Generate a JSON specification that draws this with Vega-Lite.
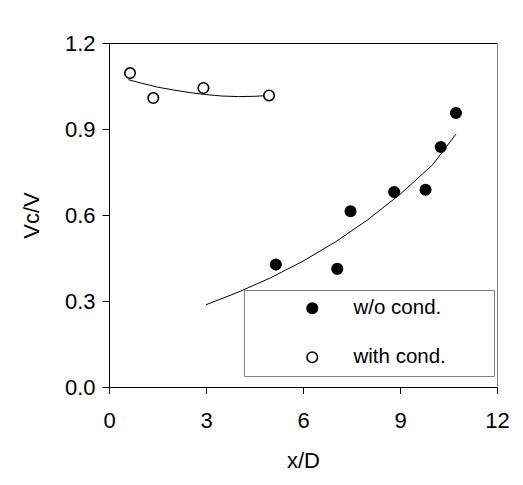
{
  "$schema": "https://vega.github.io/schema/vega-lite/v6.json",
  "width": 388,
  "height": 344,
  "autosize": "none",
  "padding": {"left": 109, "top": 43, "right": 26, "bottom": 98},
  "background": "white",
  "config": {
    "view": {"stroke": null},
    "font": "Liberation Sans",
    "axis": {"grid": false, "labelFont": "Liberation Sans", "titleFont": "Liberation Sans", "labelColor": "black", "titleColor": "black", "domainColor": "black", "tickColor": "black", "titleFontWeight": "normal"}
  },
  "datasets": {
    "pts": [
      {"x": 0.65, "y": 1.095, "series": "with cond."},
      {"x": 1.37, "y": 1.008, "series": "with cond."},
      {"x": 2.92, "y": 1.043, "series": "with cond."},
      {"x": 4.95, "y": 1.017, "series": "with cond."},
      {"x": 5.16, "y": 0.427, "series": "w/o cond."},
      {"x": 7.06, "y": 0.412, "series": "w/o cond."},
      {"x": 7.47, "y": 0.613, "series": "w/o cond."},
      {"x": 8.82, "y": 0.68, "series": "w/o cond."},
      {"x": 9.79, "y": 0.688, "series": "w/o cond."},
      {"x": 10.26, "y": 0.837, "series": "w/o cond."},
      {"x": 10.73, "y": 0.956, "series": "w/o cond."}
    ],
    "fits": [
      {"x": 0.6, "y": 1.072, "series": "with cond."},
      {"x": 1.0, "y": 1.06, "series": "with cond."},
      {"x": 1.5, "y": 1.046, "series": "with cond."},
      {"x": 2.0, "y": 1.036, "series": "with cond."},
      {"x": 2.5, "y": 1.027, "series": "with cond."},
      {"x": 3.0, "y": 1.02, "series": "with cond."},
      {"x": 3.5, "y": 1.015, "series": "with cond."},
      {"x": 4.0, "y": 1.013, "series": "with cond."},
      {"x": 4.5, "y": 1.014, "series": "with cond."},
      {"x": 4.95, "y": 1.017, "series": "with cond."},
      {"x": 3.0, "y": 0.287, "series": "w/o cond."},
      {"x": 4.0, "y": 0.331, "series": "w/o cond."},
      {"x": 5.0, "y": 0.381, "series": "w/o cond."},
      {"x": 6.0, "y": 0.439, "series": "w/o cond."},
      {"x": 7.0, "y": 0.506, "series": "w/o cond."},
      {"x": 8.0, "y": 0.583, "series": "w/o cond."},
      {"x": 9.0, "y": 0.672, "series": "w/o cond."},
      {"x": 10.0, "y": 0.774, "series": "w/o cond."},
      {"x": 10.73, "y": 0.882, "series": "w/o cond."}
    ]
  },
  "resolve": {"axis": {"x": "independent", "y": "independent"}},
  "layer": [
    {
      "data": {"name": "fits"},
      "mark": {"type": "line", "color": "black", "strokeWidth": 1},
      "encoding": {
        "x": {"field": "x", "type": "quantitative", "scale": {"domain": [0, 12], "nice": false},
              "axis": {"orient": "bottom", "title": "x/D", "values": [0, 3, 6, 9, 12], "labelFontSize": 22, "titleFontSize": 22, "tickSize": 6.5, "labelPadding": 17, "titlePadding": 19, "labelFlush": false}},
        "y": {"field": "y", "type": "quantitative", "scale": {"domain": [0, 1.2], "nice": false},
              "axis": {"orient": "left", "title": "Vc/V", "values": [0, 0.3, 0.6, 0.9, 1.2], "format": ".1f", "labelFontSize": 22, "titleFontSize": 22, "tickSize": 7, "labelPadding": 7, "titlePadding": 21, "labelFlush": false}},
        "detail": {"field": "series"}
      }
    },
    {
      "data": {"name": "pts"},
      "mark": {"type": "point", "shape": "circle", "filled": true, "stroke": "black", "strokeWidth": 1.6, "size": 110, "opacity": 1},
      "encoding": {
        "x": {"field": "x", "type": "quantitative",
              "axis": {"orient": "top", "title": null, "labels": false, "ticks": false, "domainColor": "black"}},
        "y": {"field": "y", "type": "quantitative",
              "axis": {"orient": "right", "title": null, "labels": false, "ticks": false, "domainColor": "#808080"}},
        "fill": {"field": "series", "type": "nominal",
                 "scale": {"domain": ["w/o cond.", "with cond."], "range": ["black", "white"]},
                 "legend": {"title": "\u00a0", "titleOrient": "right", "titlePadding": 40, "titleFontSize": 10,
                            "orient": "none", "legendX": 135, "legendY": 247,
                            "symbolType": "circle", "symbolSize": 110, "symbolStrokeColor": "black", "symbolStrokeWidth": 1.6,
                            "symbolOffset": 50, "labelOffset": 31, "labelFont": "Liberation Sans", "labelFontSize": 20.5, "labelColor": "black",
                            "labelLimit": 400,
                            "padding": 8, "rowPadding": 28, "strokeColor": "#808080", "fillColor": "white"}}
      }
    }
  ]
}
